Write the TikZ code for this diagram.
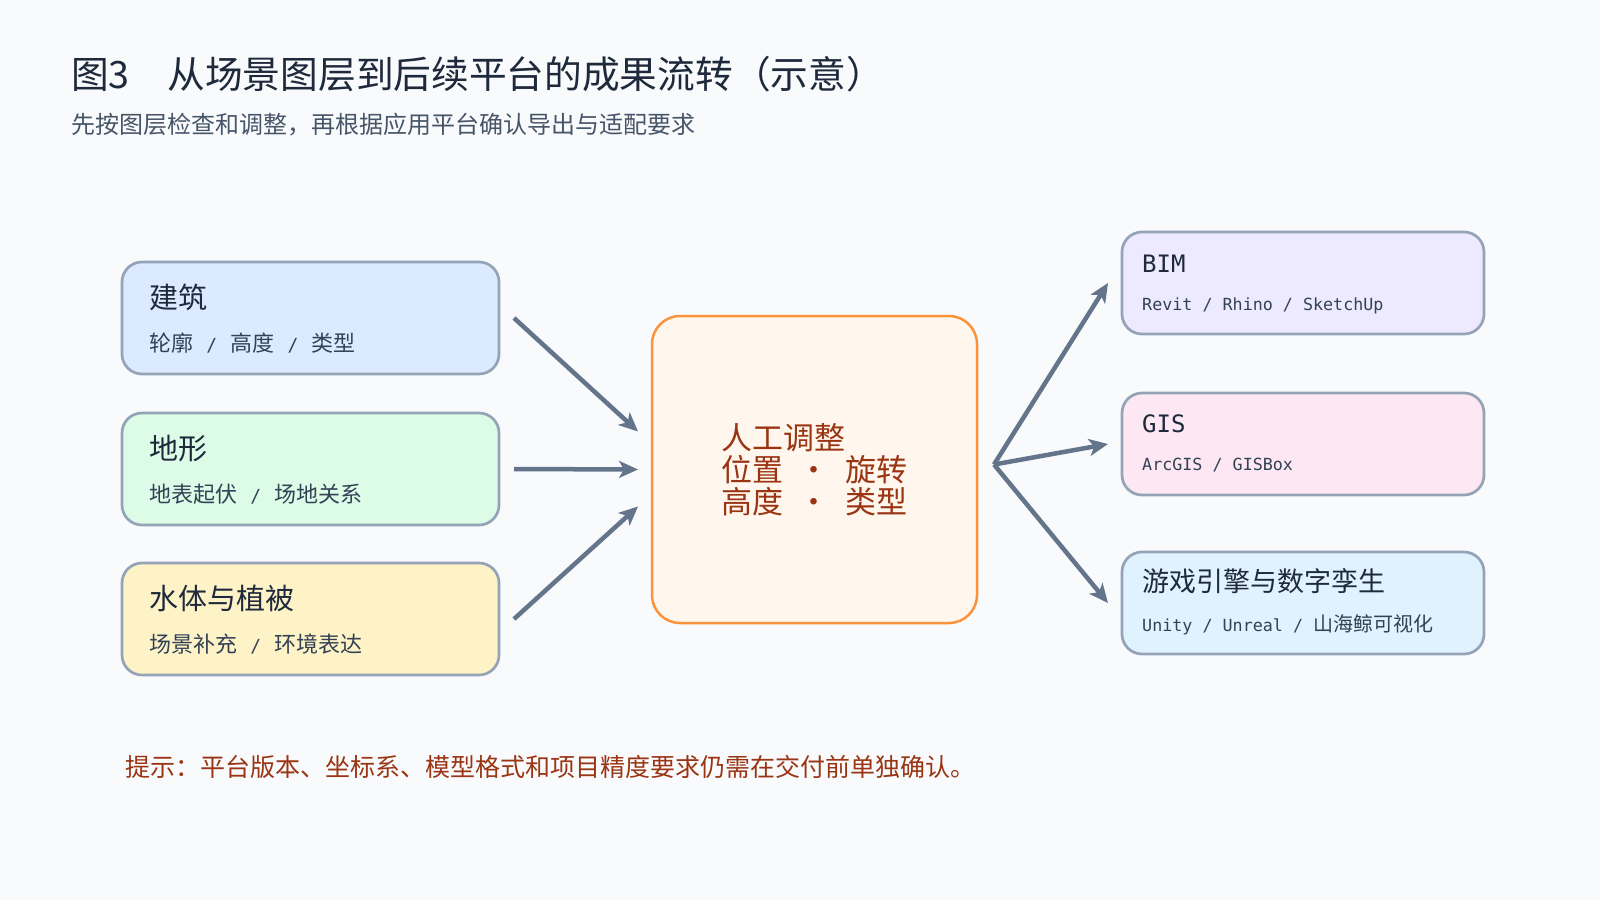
\documentclass[tikz,border=0pt]{standalone}
\usepackage{fontspec}
\setmainfont{Noto Sans CJK SC}
\newfontfamily\mono{DejaVu Sans Mono}
\usetikzlibrary{arrows.meta,calc}
\definecolor{bg}{HTML}{F8FAFC}
\definecolor{strokec}{HTML}{94A3B8}
\definecolor{arrowc}{HTML}{64748B}
\definecolor{ink}{HTML}{1E293B}
\definecolor{subc}{HTML}{334155}
\definecolor{subt}{HTML}{475569}
\definecolor{brown}{HTML}{9A3412}
\definecolor{fblue}{HTML}{DBEAFE}
\definecolor{fgreen}{HTML}{DCFCE7}
\definecolor{fyellow}{HTML}{FEF3C7}
\definecolor{fpurple}{HTML}{EDE9FE}
\definecolor{fpink}{HTML}{FCE7F3}
\definecolor{fsky}{HTML}{E0F2FE}
\definecolor{forange}{HTML}{FFF7ED}
\definecolor{sorange}{HTML}{FB923C}
\newcommand{\fsz}[1]{\fontsize{#1pt}{#1pt}\selectfont}
\newcommand{\sepsl}{\hspace{0.6em}{\mono\fontsize{18pt}{20pt}\selectfont /}\hspace{0.6em}}
\newcommand{\latin}[1]{{\mono\fontsize{16.7pt}{20pt}\selectfont #1}}
\begin{document}
\begin{tikzpicture}[x=1pt,y=-1pt,
  box/.style={draw=strokec, line width=2.7pt, rounded corners=20pt, inner sep=0pt, outer sep=0pt, anchor=north west},
  lhd/.style={anchor=base west, inner sep=0pt, text=ink, font=\fsz{29}},
  lsb/.style={anchor=base west, inner sep=0pt, text=subc, font=\fsz{22}},
  rhd/.style={anchor=base west, inner sep=0pt, text=ink, font=\fsz{27}},
  rhdl/.style={anchor=base west, inner sep=0pt, text=ink, font={\mono\fontsize{24pt}{26pt}\selectfont}},
  rsb/.style={anchor=base west, inner sep=0pt, text=subc, font={\mono\fontsize{16.7pt}{20pt}\selectfont}},
  arr/.style={draw=arrowc, line width=4.5pt, -{Stealth[length=19pt,width=17pt,inset=5pt]}},
  plain/.style={anchor=base west, inner sep=0pt}
]
\useasboundingbox (0,0) rectangle (1600,900);
\fill[bg] (0,0) rectangle (1600,900);

% title
\node[plain, text=ink, font=\fsz{37.7}] (title) at (71,88) {图3　从场景图层到后续平台的成果流转（示意）};
\node[plain, text=subt, font=\fsz{24}] (subtitle) at (71,133) {先按图层检查和调整，再根据应用平台确认导出与适配要求};

% left boxes
\node[box, fill=fblue, minimum width=377pt, minimum height=112pt] (L1) at (122,262) {};
\node[box, fill=fgreen, minimum width=377pt, minimum height=112pt] (L2) at (122,413) {};
\node[box, fill=fyellow, minimum width=377pt, minimum height=112pt] (L3) at (122,563) {};

\node[lhd] (L1h) at (149,308) {建筑};
\node[lsb] (L1s) at (149,351) {轮廓\sepsl 高度\sepsl 类型};
\node[lhd] (L2h) at (149,459) {地形};
\node[lsb] (L2s) at (149,502) {地表起伏\sepsl 场地关系};
\node[lhd] (L3h) at (149,609) {水体与植被};
\node[lsb] (L3s) at (149,652) {场景补充\sepsl 环境表达};

% center box
\node[box, draw=sorange, line width=2.5pt, rounded corners=28pt, fill=forange, minimum width=325pt, minimum height=307pt] (C) at (652,316) {};
\node[inner sep=0pt, text=brown, align=left, font={\fontsize{31pt}{32pt}\selectfont}] (Ct) at (C.center) {人工调整\\位置\makebox[2.03em]{·}旋转\\高度\makebox[2.03em]{·}类型};

% right boxes
\node[box, fill=fpurple, minimum width=362pt, minimum height=102pt] (R1) at (1122,232) {};
\node[box, fill=fpink, minimum width=362pt, minimum height=102pt] (R2) at (1122,393) {};
\node[box, fill=fsky, minimum width=362pt, minimum height=102pt] (R3) at (1122,552) {};

\node[rhdl] (R1h) at (1142,272) {BIM};
\node[rsb] (R1s) at (1142,310) {Revit / Rhino / SketchUp};
\node[rhdl] (R2h) at (1142,432) {GIS};
\node[rsb] (R2s) at (1142,470) {ArcGIS / GISBox};
\node[rhd] (R3h) at (1142,591) {游戏引擎与数字孪生};
\node[plain, text=subc, font=\fsz{20}] (R3s) at (1142,631) {\latin{Unity / Unreal / }山海鲸可视化};

% arrows in
\draw[arr] ($(L1.east)+(15,0)$) -- ($(C.west)+(-14,-38)$);
\draw[arr] ($(L2.east)+(15,0)$) -- ($(C.west)+(-14,0)$);
\draw[arr] ($(L3.east)+(15,0)$) -- ($(C.west)+(-14,37)$);

% arrows out
\coordinate (hub) at ($(C.east)+(17,-5)$);
\draw[arr] (hub) -- ($(R1.west)+(-14,0)$);
\draw[arr] (hub) -- ($(R2.west)+(-14,0)$);
\draw[arr] (hub) -- ($(R3.west)+(-14,0)$);

% footnote
\node[plain, text=brown, font=\fsz{25}] (note) at (125,776) {提示：平台版本、坐标系、模型格式和项目精度要求仍需在交付前单独确认。};
\end{tikzpicture}
\end{document}
